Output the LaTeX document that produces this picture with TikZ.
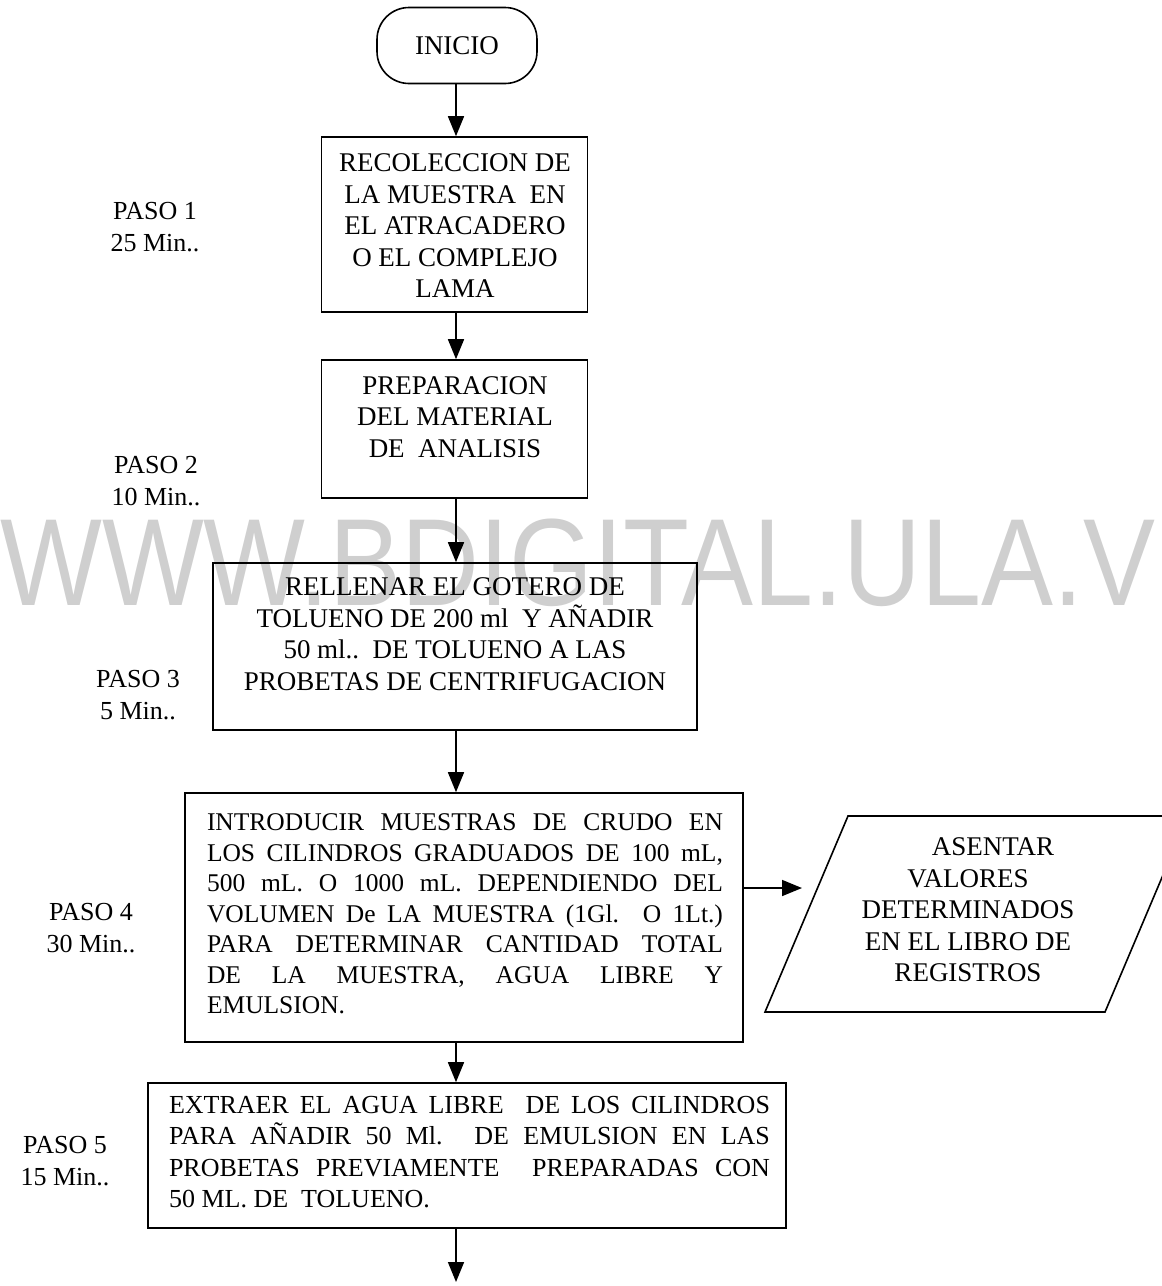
\documentclass[tikz,border=0pt]{standalone}
\usepackage{fontspec}
\setmainfont{Liberation Serif}
\newfontfamily\marcafont[FakeStretch=0.87]{Liberation Sans}
\usetikzlibrary{arrows.meta}
\begin{document}
\begin{tikzpicture}[x=1pt,y=-1pt,
  box/.style={draw, line width=1.6pt, inner sep=0pt},
  txt/.style={align=center, inner sep=0pt, font=\fontsize{27}{31.5}\selectfont},
  jtxt/.style={align=justify, inner sep=0pt, font=\fontsize{25.5}{30.5}\selectfont},
  paso/.style={align=center, inner sep=0pt, font=\fontsize{26}{31.5}\selectfont},
  flow/.style={line width=1.6pt, -{Triangle[length=20pt,width=16pt]}}]
\useasboundingbox (0,0) rectangle (1162,1286);
\clip (0,0) rectangle (1162,1286);

% background mark
\node[anchor=base west, inner sep=0pt, text=black!19,
      font=\marcafont\fontsize{124}{124}\selectfont] (marca) at (0,605) {WWW.BDIGITAL.ULA.VE};

% start terminal
\node[box, rounded corners=32pt, minimum width=160pt, minimum height=76pt,
      font=\fontsize{27}{31.5}\selectfont] (inicio) at (457,45.5) {INICIO};

% process boxes
\node[box, minimum width=266pt, minimum height=175pt] (b1) at (454.5,224.5) {};
\node[txt] (t1) at (455,226) {RECOLECCION DE\\LA MUESTRA\ \ EN\\EL ATRACADERO\\O EL COMPLEJO\\LAMA};

\node[box, minimum width=266pt, minimum height=138pt] (b2) at (454.5,429) {};
\node[txt] (t2) at (455,417) {PREPARACION\\DEL MATERIAL\\DE\ \ ANALISIS};

\node[box, minimum width=484pt, minimum height=167pt] (b3) at (455,646.5) {};
\node[txt] (t3) at (455,634) {RELLENAR EL GOTERO DE\\TOLUENO DE 200 ml\ \ Y AÑADIR\\50 ml..\ \ DE TOLUENO A LAS\\PROBETAS DE CENTRIFUGACION};

\node[box, minimum width=558pt, minimum height=249pt] (b4) at (464,917.5) {};
\node[jtxt, text width=516pt] (t4) at (465,914) {INTRODUCIR MUESTRAS DE CRUDO EN\linebreak
LOS CILINDROS GRADUADOS DE 100 mL,\linebreak
500 mL. O 1000 mL. DEPENDIENDO DEL\linebreak
VOLUMEN De LA MUESTRA (1Gl. O 1Lt.)\linebreak
PARA DETERMINAR CANTIDAD TOTAL\linebreak
DE LA MUESTRA, AGUA LIBRE Y\linebreak
EMULSION.};

\node[box, minimum width=638pt, minimum height=145pt] (b5) at (467,1155.5) {};
\node[jtxt, text width=601pt, font=\fontsize{26}{31.5}\selectfont] (t5) at (469.5,1152) {EXTRAER EL AGUA LIBRE\ \ DE LOS CILINDROS\linebreak
PARA AÑADIR 50 Ml. DE EMULSION EN LAS\linebreak
PROBETAS PREVIAMENTE\ \ PREPARADAS CON\linebreak
50 ML. DE\ \ TOLUENO.};

% data record (parallelogram)
\coordinate (p1) at (848,816);
\coordinate (p2) at (1188,816);
\coordinate (p3) at (1105,1012);
\coordinate (p4) at (765,1012);
\draw[box] (p1) -- (p2) -- (p3) -- (p4) -- cycle;
\node[txt] (treg) at (968,910) {\hspace*{50pt}ASENTAR\\VALORES\\DETERMINADOS\\EN EL LIBRO DE\\REGISTROS};

% step labels
\node[paso] (paso1) at (155,227) {PASO 1\\25 Min..};
\node[paso] (paso2) at (156,481) {PASO 2\\10 Min..};
\node[paso] (paso3) at (138,695) {PASO 3\\5 Min..};
\node[paso] (paso4) at (91,928) {PASO 4\\30 Min..};
\node[paso] (paso5) at (65,1161) {PASO 5\\15 Min..};

% connectors
\coordinate (eje) at (456,0);
\coordinate (regin) at (802,888);
\coordinate (fin) at (456,1282);
\draw[flow] (inicio.south -| eje) -- (b1.north -| eje);
\draw[flow] (b1.south -| eje) -- (b2.north -| eje);
\draw[flow] (b2.south -| eje) -- (b3.north -| eje);
\draw[flow] (b3.south -| eje) -- (b4.north -| eje);
\draw[flow] (b4.east |- regin) -- (regin);
\draw[flow] (b4.south -| eje) -- (b5.north -| eje);
\draw[flow] (b5.south -| eje) -- (fin);
\end{tikzpicture}
\end{document}
